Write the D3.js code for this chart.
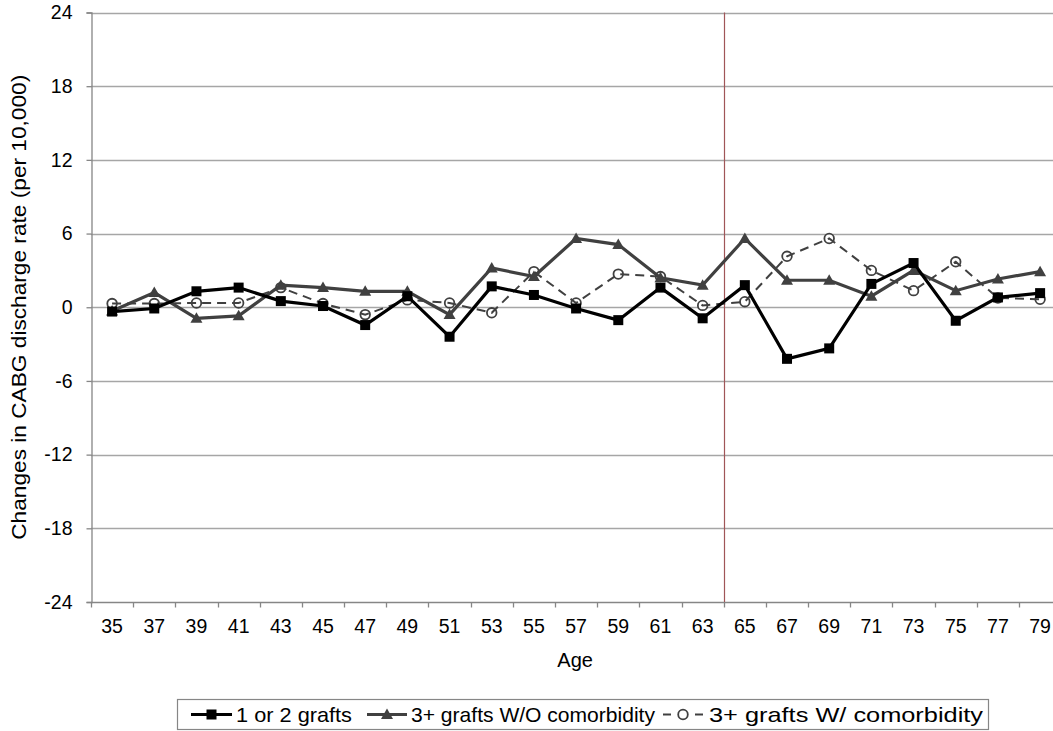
<!DOCTYPE html>
<html>
<head>
<meta charset="utf-8">
<script src="https://cdn.jsdelivr.net/npm/d3@7"></script>
<style>
  body { margin: 0; background: #fff; }
  svg { display: block; font-family: "Liberation Sans", Arial, sans-serif; }
</style>
</head>
<body>
<div id="chart"></div>
<script>
"use strict";
// ages on the category axis
var ages = [35, 37, 39, 41, 43, 45, 47, 49, 51, 53, 55, 57, 59, 61, 63, 65, 67, 69, 71, 73, 75, 77, 79];

var oneOrTwo = [-0.35, -0.1, 1.3, 1.6, 0.5, 0.1, -1.45, 0.9, -2.4, 1.7, 1.0, -0.1, -1.05, 1.6, -0.9,
                1.8, -4.2, -3.35, 1.9, 3.6, -1.1, 0.8, 1.15];
var threeNoComorb = [-0.3, 1.2, -0.9, -0.7, 1.8, 1.6, 1.3, 1.3, -0.6, 3.2, 2.5, 5.6, 5.1, 2.4, 1.8,
                     5.6, 2.2, 2.2, 0.9, 3.0, 1.35, 2.3, 2.9];
var threeComorb = [0.3, 0.3, 0.35, 0.35, 1.6, 0.3, -0.6, 0.6, 0.35, -0.45, 2.9, 0.35, 2.7, 2.5, 0.15,
                   0.45, 4.15, 5.6, 3.0, 1.35, 3.7, 0.75, 0.65];

var yTicks = [-24, -18, -12, -6, 0, 6, 12, 18, 24];
var seriesNames = ["1 or 2 grafts", "3+ grafts W/O comorbidity", "3+ grafts W/ comorbidity"];
var splitAge = 65;

var W = 1053, H = 731;
var plotLeft = 91, plotRight = 1061.2, plotTop = 12.5, plotBottom = 602;

var svg = d3.select("#chart").append("svg")
  .attr("width", W).attr("height", H);

var x = d3.scaleBand().domain(ages).range([plotLeft, plotRight]).padding(0);
var y = d3.scaleLinear().domain([-24, 24]).range([plotBottom, plotTop]);
var cx = function(a) { return x(a) + x.bandwidth() / 2; };

// gridlines
svg.append("g").selectAll("line")
  .data(yTicks.filter(function(t) { return t !== -24; }))
  .enter().append("line")
  .attr("x1", plotLeft).attr("x2", plotRight)
  .attr("y1", function(d) { return Math.round(y(d)) + 0.5; })
  .attr("y2", function(d) { return Math.round(y(d)) + 0.5; })
  .attr("stroke", "#a6a6a6").attr("stroke-width", 1.3);

// y axis (plain hyphen for negatives, like the original)
var yAxis = svg.append("g")
  .attr("transform", "translate(" + (plotLeft + 0.5) + ",0)")
  .call(d3.axisLeft(y).tickValues(yTicks).tickSize(5).tickPadding(14)
    .tickFormat(function(d) { return String(d); }));
yAxis.select(".domain").attr("stroke", "#868686").attr("stroke-width", 1.3);
yAxis.selectAll(".tick line").attr("stroke", "#868686").attr("stroke-width", 1.3);
yAxis.selectAll("text").attr("font-size", 19.5).attr("fill", "#000")
  .attr("font-family", "Liberation Sans, Arial, sans-serif");

// x axis: labels centred in bands, tick marks on band edges
var xAxis = svg.append("g")
  .attr("transform", "translate(0," + (Math.round(plotBottom) + 0.5) + ")")
  .call(d3.axisBottom(x).tickSize(0).tickPadding(17));
xAxis.select(".domain").remove();
xAxis.selectAll("text").attr("font-size", 19.5).attr("fill", "#000")
  .attr("font-family", "Liberation Sans, Arial, sans-serif");
xAxis.append("line").attr("x1", plotLeft).attr("x2", plotRight)
  .attr("stroke", "#868686").attr("stroke-width", 1.3);
xAxis.selectAll(".edge").data(ages).enter().append("line")
  .attr("class", "edge")
  .attr("x1", function(d) { return Math.round(x(d)) + 0.5; })
  .attr("x2", function(d) { return Math.round(x(d)) + 0.5; })
  .attr("y1", 0).attr("y2", 5)
  .attr("stroke", "#868686").attr("stroke-width", 1.3);

// vertical split line before age 65
svg.append("line")
  .attr("x1", Math.round(x(splitAge)) + 0.5).attr("x2", Math.round(x(splitAge)) + 0.5)
  .attr("y1", plotTop).attr("y2", plotBottom)
  .attr("stroke", "#a05658").attr("stroke-width", 1.2);

// axis titles
svg.append("text")
  .attr("transform", "translate(26," + ((plotTop + plotBottom) / 2) + ")rotate(-90)")
  .attr("text-anchor", "middle")
  .attr("font-size", 21)
  .attr("textLength", 465).attr("lengthAdjust", "spacingAndGlyphs")
  .text("Changes in CABG discharge rate (per 10,000)");
svg.append("text")
  .attr("x", (plotLeft + plotRight) / 2 - 1).attr("y", 667)
  .attr("text-anchor", "middle")
  .attr("font-size", 20)
  .text("Age");

var line = d3.line()
  .x(function(d, i) { return cx(ages[i]); })
  .y(function(d) { return y(d); });

var series = [
  { name: seriesNames[0], values: oneOrTwo, color: "#000000", width: 3.2, dash: null, marker: "square" },
  { name: seriesNames[1], values: threeNoComorb, color: "#404040", width: 3.2, dash: null, marker: "triangle" },
  { name: seriesNames[2], values: threeComorb, color: "#404040", width: 2, dash: "9,6", marker: "circle" }
];

function drawMarker(g, type, color) {
  if (type === "square") {
    g.append("rect").attr("x", -5).attr("y", -5).attr("width", 10).attr("height", 10)
      .attr("fill", color);
  } else if (type === "triangle") {
    g.append("path").attr("d", "M0,-6L6,4.5L-6,4.5Z").attr("fill", color);
  } else {
    g.append("circle").attr("r", 4.8).attr("fill", "#fff")
      .attr("stroke", color).attr("stroke-width", 1.8);
  }
}

function drawPath(g, s) {
  g.append("path")
    .datum(s.values)
    .attr("d", line)
    .attr("fill", "none")
    .attr("stroke", s.color)
    .attr("stroke-width", s.width)
    .attr("stroke-dasharray", s.dash);
}

// draw in reverse so the black series sits on top
series.slice().reverse().forEach(function(s) {
  var g = svg.append("g");
  // the dashed line runs over its own hollow circles
  if (s.marker !== "circle") drawPath(g, s);
  g.selectAll(".pt").data(s.values).enter().append("g")
    .attr("class", "pt")
    .attr("transform", function(d, i) { return "translate(" + cx(ages[i]) + "," + y(d) + ")"; })
    .each(function() { drawMarker(d3.select(this), s.marker, s.color); });
  if (s.marker === "circle") drawPath(g, s);
});

// legend
var legend = svg.append("g");
legend.append("rect")
  .attr("x", 177.5).attr("y", 699.5).attr("width", 811).attr("height", 30)
  .attr("fill", "#fff").attr("stroke", "#868686").attr("stroke-width", 1.2);
var legendX = [191, 367, 661];
var legendLen = [41, 40, 44];
var legendTextW = [116, 244, 274];
series.forEach(function(s, i) {
  var g = legend.append("g").attr("transform", "translate(" + legendX[i] + ",714.5)");
  if (s.dash) {
    // short dash, circle, short dash
    g.append("line").attr("x1", 2).attr("x2", 10)
      .attr("stroke", s.color).attr("stroke-width", s.width);
    g.append("line").attr("x1", legendLen[i] - 10).attr("x2", legendLen[i] - 2)
      .attr("stroke", s.color).attr("stroke-width", s.width);
  } else {
    g.append("line").attr("x1", 0).attr("x2", legendLen[i])
      .attr("stroke", s.color).attr("stroke-width", s.width);
  }
  var m = g.append("g").attr("transform", "translate(" + (legendLen[i] / 2) + ",0)");
  drawMarker(m, s.marker, s.color);
  g.append("text").attr("x", legendLen[i] + 4).attr("y", 0).attr("dy", "0.35em")
    .attr("font-size", 21)
    .attr("textLength", legendTextW[i]).attr("lengthAdjust", "spacingAndGlyphs")
    .text(s.name);
});
</script>
</body>
</html>
